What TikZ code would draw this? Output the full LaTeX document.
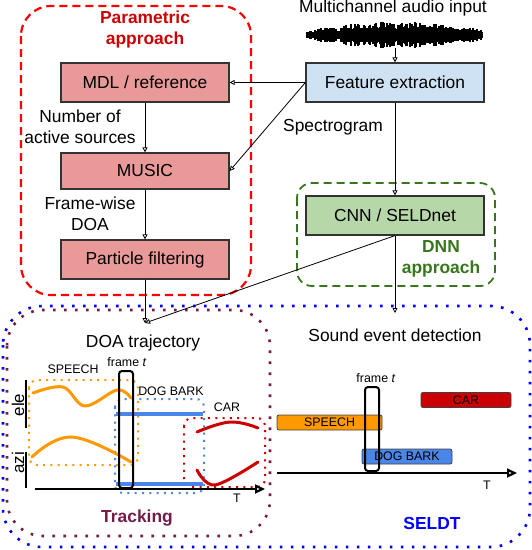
\documentclass[tikz,border=0pt]{standalone}
\usepackage{fontspec}
\setmainfont{Liberation Sans}
\usetikzlibrary{arrows.meta}
\definecolor{boxred}{HTML}{EA9999}
\definecolor{boxblue}{HTML}{CFE2F3}
\definecolor{boxgreen}{HTML}{B6D7A8}
\definecolor{paramred}{HTML}{CC0000}
\definecolor{dnngreen}{HTML}{38761D}
\definecolor{trackred}{HTML}{741B47}
\definecolor{evorange}{HTML}{FF9900}
\definecolor{evblue}{HTML}{4A86E8}
\definecolor{evred}{HTML}{CC0000}
\newcommand{\bigfs}{\fontsize{17.4}{20.5}\selectfont}
\newcommand{\smallfs}{\fontsize{12.4}{14}\selectfont}
\tikzset{
  stage/.style={draw=black!80, line width=1.2pt, minimum width=168pt,
    minimum height=39pt, inner sep=0pt, font=\bigfs},
  flow/.style={-{Triangle[open,length=5pt,width=5pt]}, line width=0.8pt},
  axis/.style={-{Triangle[open,length=10pt,width=9pt]}, line width=2.2pt},
  bar/.style={draw=black!75, line width=0.8pt, rounded corners=2pt,
    minimum height=15pt, inner sep=0pt, font=\smallfs},
  txt/.style={font=\bigfs, align=center},
  tag/.style={font=\smallfs},
  dashbox/.style={dash pattern=on 8pt off 5pt},
  dotbox/.style={line width=2.6pt, dash pattern=on 2.6pt off 8.4pt, rounded corners=39pt},
  finedot/.style={line width=2pt, dash pattern=on 2pt off 5.3pt, rounded corners=8pt},
  track/.style={line width=3pt, line cap=round},
  framebox/.style={draw, line width=2pt, rounded corners=3pt}
}
\begin{document}
\begin{tikzpicture}[x=1pt,y=-1pt]
  \useasboundingbox (0,0) rectangle (532,550);
  \draw[red, line width=2.2pt, dashbox, rounded corners=30pt] (21,6) rectangle (251,295);
  \draw[dnngreen, line width=1.8pt, dashbox, rounded corners=15pt] (297,183) rectangle (495,286);
  \draw[blue, dotbox] (3,306) rectangle (530,547);
  \draw[trackred, dotbox, rounded corners=36pt] (7,310) rectangle (270,536);

  \draw
    (145,29.5) node[txt, font=\bigfs\bfseries, text=paramred] (param) {Parametric\\approach}
    (145,82.5) node[stage, fill=boxred] (mdl) {MDL / reference}
    (80,127) node[txt] (nas) {Number of\\active sources}
    (145,171) node[stage, fill=boxred, minimum height=36pt] (music) {MUSIC}
    (90,214) node[txt] (fwd) {Frame-wise\\DOA}
    (145,259.5) node[stage, fill=boxred] (pf) {Particle filtering}
    (393,8) node[txt] (input) {Multichannel audio input}
    (395,82.5) node[stage, fill=boxblue, minimum width=178pt] (feat) {Feature extraction}
    (333,127) node[txt] (spec) {Spectrogram}
    (395,215.5) node[stage, fill=boxgreen, minimum width=178pt] (cnn) {CNN / SELDnet}
    (441,259) node[txt, font=\bigfs\bfseries, text=dnngreen] (dnn) {DNN\\approach}
    (143,343) node[txt] (doatraj) {DOA trajectory}
    (137,518) node[txt, font=\bigfs\bfseries, text=trackred] (tracking) {Tracking}
    (395,335) node[txt] (sed) {Sound event detection}
    (432,524) node[txt, font=\bigfs\bfseries, text=blue] (seldt) {SELDT};
  \coordinate (wav) at (395,48);
  \coordinate (doa) at (145,323);
  \coordinate (sedin) at (395,313);

  \pgfmathsetseed{17}
  \foreach \i in {0,...,175}{
    \pgfmathsetmacro\env{3+7.5*sin(\i/175*180)+3*abs(sin(\i*6))}
    \pgfmathsetmacro\amp{\env*(0.5+0.5*rnd)}
    \draw[line width=1.2pt] (307+\i,35-\amp) -- (307+\i,35+\amp);
  }

  \begin{scope}[flow]
    \draw (wav) to (feat);
    \draw (feat.west) to (mdl.east);
    \draw (feat.west) to (music.east);
    \draw (mdl) to (music);
    \draw (music) to (pf);
    \draw (pf) to (doa);
    \draw (feat) to (cnn);
    \draw (cnn.south) to (doa);
    \draw (cnn) to (sedin);
  \end{scope}

  \draw
    (18,405) node[txt, rotate=90, font=\fontsize{17}{20}\selectfont] (ele) {ele}
    (18,463) node[txt, rotate=90, font=\fontsize{17}{20}\selectfont] (azi) {azi}
    (73,369) node[tag] (speech) {SPEECH}
    (127,362) node[tag] (frameL) {frame \textit{t}}
    (171,391) node[tag] (dog) {DOG BARK}
    (227,407) node[tag] (car) {CAR}
    (237,498) node[tag] (timeL) {T}
    (376,378) node[tag] (frameR) {frame \textit{t}}
    (487,485) node[tag] (timeR) {T};
  \coordinate (eleTop) at (26,380);
  \coordinate (eleBot) at (26,428);
  \coordinate (aziTop) at (26,452);
  \coordinate (aziBot) at (26,488);
  \draw[line width=2pt] (eleTop) -- (eleBot);
  \draw[line width=2pt] (aziTop) -- (aziBot);
  \coordinate (t0L) at (35,489);
  \coordinate (t1L) at (265,489);
  \coordinate (t0R) at (277,473);
  \coordinate (t1R) at (517,473);

  \draw[evorange, finedot] (29,380) rectangle (138,465);
  \draw[evblue, finedot] (115,399) rectangle (204,493);
  \draw[evred, finedot] (184,418) rectangle (265,487);
  \draw[evorange, track] plot[smooth, tension=0.6] coordinates {(33,393) (63,387) (85,406) (117,390) (131,398)};
  \draw[evorange, track] plot[smooth, tension=0.7] coordinates {(32,457) (72,437) (131,462)};
  \draw[evblue, line width=4pt] (116,414) -- (203,414);
  \draw[evblue, line width=4pt] (116,484) -- (203,484);
  \draw[evred, track] plot[smooth, tension=0.7] coordinates {(197,432) (230,422) (258,428)};
  \draw[evred, track] plot[smooth, tension=0.6] coordinates {(197,470) (215,485) (258,462)};
  \draw[axis] (t0L) -- (t1L);
  \draw[framebox] (119,371) rectangle (133,488);

  \draw
    (466,400) node[bar, fill=evred, minimum width=90pt] (carbar) {CAR}
    (329.5,422.5) node[bar, fill=evorange, minimum width=105pt] (speechbar) {SPEECH}
    (407,456.5) node[bar, fill=evblue, minimum width=90pt] (dogbar) {DOG BARK};
  \draw[axis] (t0R) -- (t1R);
  \draw[framebox] (365,387) rectangle (379,471);
\end{tikzpicture}
\end{document}
